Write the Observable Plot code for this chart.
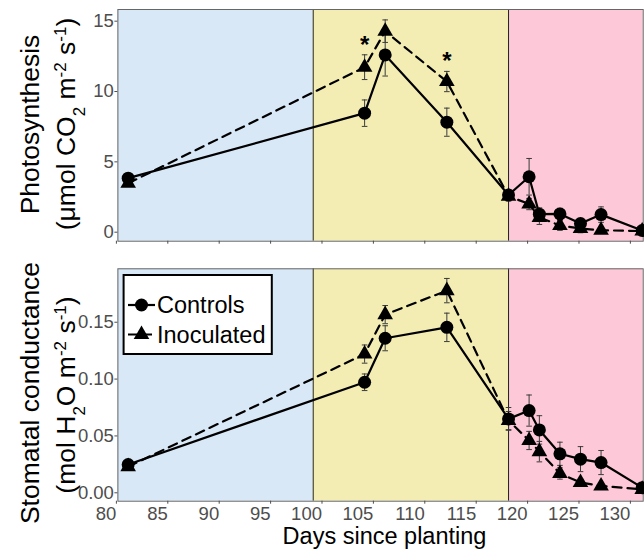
<!DOCTYPE html>
<html><head><meta charset="utf-8">
<script src="https://cdn.jsdelivr.net/npm/d3@7"></script>
<script src="https://cdn.jsdelivr.net/npm/@observablehq/plot@0.6"></script>
<style>
body{margin:0;background:#fff;}
#chart{width:644px;height:550px;position:relative;font-family:"Liberation Sans",Arial,sans-serif;}
#chart svg{display:block;}
</style></head><body><div id="chart"></div>
<script>
// ---- data ----
const days = [81, 104, 106, 112, 118, 120, 121, 123, 125, 127, 131];
const photoControls   = [3.84, 8.46, 12.6, 7.82, 2.65, 3.94, 1.28, 1.3, 0.62, 1.25, 0.12];
const photoControlsSE = [0.2, 0.94, 1.5, 1.0, 0.3, 1.3, 0.45, 0.4, 0.3, 0.55, 0.15];
const photoInoc       = [3.48, 11.73, 14.29, 10.71, 2.56, 2.0, 1.05, 0.48, 0.26, 0.14, 0.08];
const photoInocSE     = [0.15, 0.88, 0.8, 0.72, 0.35, 0.4, 0.5, 0.35, 0.3, 0.2, 0.1];
const condControls    = [0.0249, 0.0972, 0.1359, 0.1455, 0.065, 0.0723, 0.0553, 0.0343, 0.0296, 0.0266, 0.0045];
const condControlsSE  = [0.002, 0.0073, 0.011, 0.0125, 0.010, 0.0137, 0.0125, 0.0102, 0.011, 0.0106, 0.002];
const condInoc        = [0.023, 0.122, 0.1567, 0.1778, 0.0635, 0.046, 0.0362, 0.017, 0.009, 0.006, 0.003];
const condInocSE      = [0.002, 0.008, 0.008, 0.0107, 0.008, 0.008, 0.009, 0.005, 0.003, 0.003, 0.002];
const sigDays = [104, 112];             // asterisks (photosynthesis, inoculated)
const phaseBounds = [99, 118];          // phase boundaries (days)
const xDomain = [80, 131.1];
const xTicks = [80, 85, 90, 95, 100, 105, 110, 115, 120, 125, 130];
const photoTicks = [0, 5, 10, 15];
const condTicks = [0, 0.05, 0.10, 0.15];
const seriesNames = ["Controls", "Inoculated"];

// ---- styles ----
const phaseColors = ["#d9e8f7", "#f3edb4", "#fdc8d8"];
const FONT = '"Liberation Sans", Arial, sans-serif';
const W = 644, ML = 117.4, MR = 1.3;

const mk = (vals, se) => days.map((d, i) => ({day: d, value: vals[i], se: se[i]}));
const phaseEdges = [xDomain[0], ...phaseBounds, xDomain[1]];
const phases = phaseColors.map((c, i) => ({start: phaseEdges[i], end: phaseEdges[i + 1], fill: c}));

const capSymbol = {draw(ctx, size) { const w = Math.sqrt(size / Math.PI); ctx.moveTo(-w, 0); ctx.lineTo(w, 0); }};

function panel({ctrl, inoc, yDomain, yTicks, yFmt, height, marginTop, marginBottom, xLabels, extra = []}) {
  const errStroke = "#3a3a3a";
  const err = (rows) => [
    Plot.ruleX(rows, {x: "day", y1: d => d.value - d.se, y2: d => d.value + d.se, stroke: errStroke, strokeWidth: 1}),
    Plot.dot(rows, {x: "day", y: d => d.value + d.se, symbol: capSymbol, r: 2.8, fill: "none", stroke: errStroke, strokeWidth: 1}),
    Plot.dot(rows, {x: "day", y: d => d.value - d.se, symbol: capSymbol, r: 2.8, fill: "none", stroke: errStroke, strokeWidth: 1})
  ];
  return Plot.plot({
    width: W, height, marginTop, marginBottom, marginLeft: ML, marginRight: MR,
    style: {fontFamily: FONT, fontSize: "18.5px", background: "transparent", overflow: "visible"},
    x: {domain: xDomain},
    y: {domain: yDomain},
    color: {type: "identity"},
    marks: [
      Plot.rect(phases, {x1: "start", x2: "end", fill: "fill"}),
      Plot.ruleX(phaseBounds, {stroke: "#222", strokeWidth: 1}),
      Plot.frame({stroke: "#666", strokeWidth: 1}),
      Plot.axisY({ticks: yTicks, tickFormat: yFmt, tickSize: 3, tickPadding: 1, fontSize: 18.5, color: "#4d4d4d", label: null}),
      Plot.axisX({ticks: xTicks, tickFormat: xLabels ? d3.format("d") : () => "", tickSize: 3, tickPadding: 2.3,
                  fontSize: 18.5, color: "#4d4d4d", textAnchor: "end", dx: -1.5, label: null}),
      ...err(inoc), ...err(ctrl),
      Plot.line(inoc, {x: "day", y: "value", stroke: "black", strokeWidth: 2.2, strokeDasharray: "9,6"}),
      Plot.line(ctrl, {x: "day", y: "value", stroke: "black", strokeWidth: 2.2}),
      Plot.dot(inoc, {x: "day", y: "value", symbol: "triangle", r: 5.8, fill: "black", stroke: "none"}),
      Plot.dot(ctrl, {x: "day", y: "value", symbol: "circle", r: 6.5, fill: "black", stroke: "none"}),
      ...extra
    ]
  });
}

const pCtrl = mk(photoControls, photoControlsSE), pInoc = mk(photoInoc, photoInocSE);
const cCtrl = mk(condControls, condControlsSE), cInoc = mk(condInoc, condInocSE);
const sigRows = pInoc.filter(d => sigDays.includes(d.day));

const topPlot = panel({ctrl: pCtrl, inoc: pInoc, yDomain: [-0.64, 15.83], yTicks: photoTicks, yFmt: d3.format("d"),
  height: 254, marginTop: 9, marginBottom: 13.3, xLabels: false,
  extra: [Plot.text(sigRows, {x: "day", y: d => d.value + d.se, text: () => "*", fontSize: 24, fontWeight: "bold",
    fill: "black", lineAnchor: "bottom", dy: -2})]});
const bottomPlot = panel({ctrl: cCtrl, inoc: cInoc, yDomain: [-0.0074, 0.197], yTicks: condTicks, yFmt: d3.format(".2f"),
  height: 296, marginTop: 14.3, marginBottom: 49.3, xLabels: true});

const chart = document.getElementById("chart");
chart.append(topPlot, bottomPlot);

// ---- axis titles with sub/superscripts ----
function ytitle(svg, x, y, parts) {
  const t = d3.select(svg).append("text")
    .attr("transform", `translate(${x},${y}) rotate(-90)`)
    .attr("text-anchor", "middle").attr("fill", "black")
    .style("font-family", FONT).style("font-size", "26.5px");
  for (const [s, kind] of parts) {
    const ts = t.append("tspan").text(s);
    if (kind === "sub") ts.attr("baseline-shift", "sub").style("font-size", "17px");
    if (kind === "sup") ts.attr("baseline-shift", "super").style("font-size", "17px");
  }
}
ytitle(topPlot, 39, 124.5, [["Photosynthesis"]]);
ytitle(topPlot, 74.5, 124, [["(μmol CO"], ["2", "sub"], [" m"], ["-2", "sup"], [" s"], ["-1", "sup"], [")"]]);
ytitle(bottomPlot, 39, 139, [["Stomatal conductance"]]);
ytitle(bottomPlot, 74.5, 141, [["(mol H"], ["2", "sub"], ["O m"], ["-2", "sup"], [" s"], ["-1", "sup"], [")"]]);

d3.select(bottomPlot).append("text").attr("x", 384.5).attr("y", 289.5).attr("text-anchor", "middle")
  .attr("fill", "black").style("font-family", FONT).style("font-size", "23.5px").text("Days since planting");

// ---- legend ----
const lg = d3.select(bottomPlot).append("g");
lg.append("rect").attr("x", 123.6).attr("y", 21).attr("width", 148.2).attr("height", 79)
  .attr("fill", "white").attr("stroke", "black").attr("stroke-width", 2);
seriesNames.forEach((name, i) => {
  const cy = 51 + i * 29.5;
  lg.append("line").attr("x1", 128).attr("x2", 155).attr("y1", cy).attr("y2", cy)
    .attr("stroke", "black").attr("stroke-width", 2.2).attr("stroke-dasharray", i ? "9,6" : null);
  lg.append("path").attr("transform", `translate(141.5,${cy})`)
    .attr("d", d3.symbol(i ? d3.symbolTriangle : d3.symbolCircle, Math.PI * (i ? 5.8 : 6.5) ** 2)())
    .attr("fill", "black");
  lg.append("text").attr("x", 157).attr("y", cy).attr("dy", "0.35em").attr("fill", "black")
    .attr("text-anchor", "start")
    .style("font-family", FONT).style("font-size", "23.5px").text(name);
});
</script></body></html>
